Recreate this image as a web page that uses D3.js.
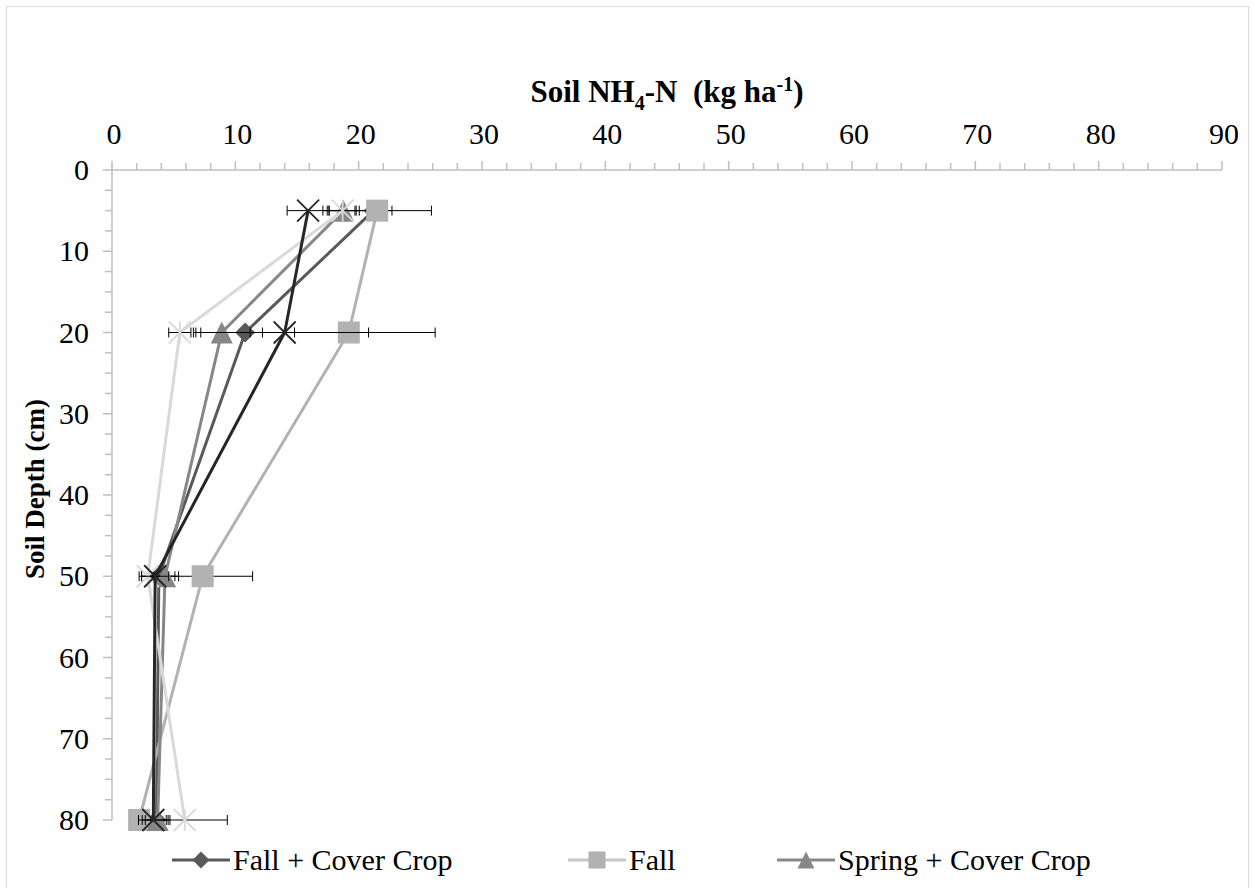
<!DOCTYPE html>
<html>
<head>
<meta charset="utf-8">
<script src="https://cdn.jsdelivr.net/npm/d3@7"></script>
<style>
  body { margin: 0; background: #fff; }
  text { font-family: "Liberation Serif", "Times New Roman", serif; }
</style>
</head>
<body>
<div id="chart"></div>
<script>
// depth of each sample (cm)
var depths = [5, 20, 50, 80];

// soil NH4-N per series (kg/ha) and the error bar half widths
var fallCC = [21.2, 10.8, 3.8, 3.6];
var fallCCErr = [1.5, 4.0, 1.6, 0.8];
var fall = [21.5, 19.2, 7.35, 2.2];
var fallErr = [4.4, 7.0, 4.05, 0.6];
var springCC = [18.75, 8.9, 4.3, 3.7];
var springCCErr = [1.3, 2.3, 0.8, 1.0];
var series4 = [18.7, 5.5, 2.9, 5.9];
var series4Err = [1.1, 0.9, 0.5, 3.45];
var series5 = [15.9, 14.0, 3.5, 3.35];
var series5Err = [1.7, 6.8, 1.1, 1.2];

var xTicks = [0, 10, 20, 30, 40, 50, 60, 70, 80, 90];
var yTicks = [0, 10, 20, 30, 40, 50, 60, 70, 80];

var allSeries = [
  {name: "Fall + Cover Crop", vals: fallCC, err: fallCCErr, color: "#595959", marker: "diamond", legend: true},
  {name: "Fall", vals: fall, err: fallErr, color: "#b2b2b2", marker: "square", legend: true},
  {name: "Spring + Cover Crop", vals: springCC, err: springCCErr, color: "#878787", marker: "triangle", legend: true},
  {name: "", vals: series4, err: series4Err, color: "#d9d9d9", marker: "star", legend: false},
  {name: "", vals: series5, err: series5Err, color: "#262626", marker: "x", legend: false}
];

var svg = d3.select("#chart").append("svg")
  .attr("width", 1255)
  .attr("height", 888);

// chart border
svg.append("rect")
  .attr("x", 6.5).attr("y", 6.5)
  .attr("width", 1242).attr("height", 920)
  .attr("fill", "#fff")
  .attr("stroke", "#d9d9d9");

var x = d3.scaleLinear().domain([0, 90]).range([112, 1222]);
var y = d3.scaleLinear().domain([0, 80]).range([170, 820]);

//minor ticks
var axisColor = "#bfbfbf";
var xMinor = d3.range(0, 91, 2);
svg.selectAll(".xminor").data(xMinor).enter().append("line")
  .attr("x1", function(d) { return x(d); })
  .attr("x2", function(d) { return x(d); })
  .attr("y1", 170)
  .attr("y2", function(d) { return d % 10 == 0 ? 161 : 163; })
  .attr("stroke", axisColor).attr("stroke-width", 1.5);

var yMinor = d3.range(0, 80.1, 2.5);
svg.selectAll(".yminor").data(yMinor).enter().append("line")
  .attr("y1", function(d) { return y(d); })
  .attr("y2", function(d) { return y(d); })
  .attr("x1", 112)
  .attr("x2", function(d) { return d % 10 == 0 ? 103 : 105; })
  .attr("stroke", axisColor).attr("stroke-width", 1.5);

// axis lines
svg.append("line")
  .attr("x1", 112).attr("x2", 1222).attr("y1", 170).attr("y2", 170)
  .attr("stroke", axisColor).attr("stroke-width", 1.5);
svg.append("line")
  .attr("x1", 112).attr("x2", 112).attr("y1", 170).attr("y2", 820)
  .attr("stroke", axisColor).attr("stroke-width", 1.5);

// tick labels
svg.selectAll(".xlab").data(xTicks).enter().append("text")
  .attr("x", function(d) { return x(d) + 2; })
  .attr("y", 144)
  .attr("text-anchor", "middle")
  .style("font-size", "30px")
  .text(function(d) { return d; });

svg.selectAll(".ylab").data(yTicks).enter().append("text")
  .attr("x", 89)
  .attr("y", function(d) { return y(d) + 10; })
  .attr("text-anchor", "end")
  .style("font-size", "30px")
  .text(function(d) { return d; });

// axis titles
var title = svg.append("text")
  .attr("x", 667).attr("y", 102)
  .attr("text-anchor", "middle")
  .style("font-size", "31px").style("font-weight", "bold")
  .style("white-space", "pre");
title.append("tspan").text("Soil NH");
title.append("tspan").attr("dy", 8).style("font-size", "20px").text("4");
title.append("tspan").attr("dy", -8).text("-N  (kg ha");
title.append("tspan").attr("dy", -11).style("font-size", "20px").text("-1");
title.append("tspan").attr("dy", 11).text(")");

svg.append("text")
  .attr("transform", "translate(44,489) rotate(-90)")
  .attr("text-anchor", "middle")
  .style("font-size", "27px").style("font-weight", "bold")
  .text("Soil Depth (cm)");

function drawMarker(g, type, cx, cy, color, s) {
  if (type == "diamond") {
    g.append("path")
      .attr("d", "M" + cx + "," + (cy - s / 2) + "L" + (cx + s / 2) + "," + cy + "L" + cx + "," + (cy + s / 2) + "L" + (cx - s / 2) + "," + cy + "Z")
      .attr("fill", color);
  } else if (type == "square") {
    g.append("rect")
      .attr("x", cx - s / 2).attr("y", cy - s / 2)
      .attr("width", s).attr("height", s)
      .attr("fill", color);
  } else if (type == "triangle") {
    g.append("path")
      .attr("d", "M" + cx + "," + (cy - s / 2) + "L" + (cx + s / 2) + "," + (cy + s / 2) + "L" + (cx - s / 2) + "," + (cy + s / 2) + "Z")
      .attr("fill", color);
  } else {
    var h = s / 2;
    g.append("path")
      .attr("d", "M" + (cx - h) + "," + (cy - h) + "L" + (cx + h) + "," + (cy + h) + "M" + (cx - h) + "," + (cy + h) + "L" + (cx + h) + "," + (cy - h))
      .attr("stroke", color).attr("stroke-width", 1.8).attr("fill", "none");
    if (type == "star") {
      g.append("line")
        .attr("x1", cx).attr("x2", cx).attr("y1", cy - h).attr("y2", cy + h)
        .attr("stroke", color).attr("stroke-width", 1.8);
    }
  }
}

var line = d3.line()
  .x(function(d) { return x(d.v); })
  .y(function(d) { return y(d.depth); });

allSeries.forEach(function(s) {
  var pts = depths.map(function(dep, i) { return {depth: dep, v: s.vals[i], e: s.err[i]}; });
  var g = svg.append("g");
  g.append("path")
    .datum(pts)
    .attr("d", line)
    .attr("fill", "none")
    .attr("stroke", s.color)
    .attr("stroke-width", 3);

  // error bars
  pts.forEach(function(p) {
    var x1 = x(p.v - p.e), x2 = x(p.v + p.e), yy = y(p.depth);
    g.append("line").attr("x1", x1).attr("x2", x2).attr("y1", yy).attr("y2", yy)
      .attr("stroke", "#000").attr("stroke-width", 1);
    g.append("line").attr("x1", x1).attr("x2", x1).attr("y1", yy - 5).attr("y2", yy + 5)
      .attr("stroke", "#000").attr("stroke-width", 1);
    g.append("line").attr("x1", x2).attr("x2", x2).attr("y1", yy - 5).attr("y2", yy + 5)
      .attr("stroke", "#000").attr("stroke-width", 1);
  });

  pts.forEach(function(p) {
    drawMarker(g, s.marker, x(p.v), y(p.depth), s.color, s.marker == "diamond" ? 20 : 22);
  });
});

// legend
var legendX = [172, 568, 777];
var legendItems = allSeries.filter(function(s) { return s.legend; });
legendItems.forEach(function(s, i) {
  var lx = legendX[i], ly = 860;
  var g = svg.append("g");
  g.append("line")
    .attr("x1", lx).attr("x2", lx + 58).attr("y1", ly).attr("y2", ly)
    .attr("stroke", s.marker == "square" ? "#c8c8c8" : s.color)
    .attr("stroke-width", 3);
  drawMarker(g, s.marker, lx + 29, ly, s.color, 17);
  g.append("text")
    .attr("x", lx + 61).attr("y", ly + 10)
    .style("font-size", "30px")
    .text(s.name);
});
</script>
</body>
</html>
